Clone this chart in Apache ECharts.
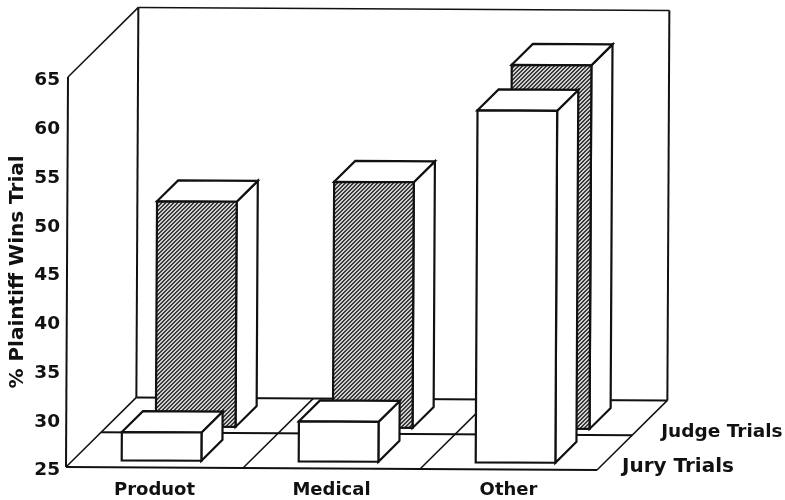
<!DOCTYPE html>
<html><head><meta charset="utf-8">
<style>html,body{margin:0;padding:0;background:#fff}#c{width:785px;height:500px}</style>
<script src="https://cdn.jsdelivr.net/npm/echarts@6/dist/echarts.min.js"></script>
</head><body><div id="c"></div>
<script>
var categories = ['Produot', 'Medical', 'Other'];
var juryTrials = [27.9, 29.1, 61.1];
var judgeTrials = [48.1, 50.2, 62.3];
var yTicks = {min: 25, max: 65, interval: 5};
var yTitle = '% Plaintiff Wins Trial';
var juryName = 'Jury Trials', judgeName = 'Judge Trials';

var FONT = '"DejaVu Sans"';
var INK = '#111111';
var DEPTH = 70, ROW_FRONT = {jury: 7, judge: 41}, BAR_DEPTH = 21, MID = 35;

// the reference is a slightly rotated scan
function skew(p) {
  return [p[0] + 2 * (467 - p[1]) / 390, p[1] + 3 * (p[0] - 66) / 531];
}
function poly(pts, fill, lw) {
  return {type: 'polygon', shape: {points: pts.map(skew)},
    style: {fill: fill || '#fff', stroke: INK, lineWidth: lw || 2.2, lineJoin: 'miter'}};
}
function line(a, b, lw) {
  return {type: 'polyline', shape: {points: [skew(a), skew(b)]},
    style: {fill: null, stroke: INK, lineWidth: lw || 1.5}};
}
function hatch() {
  var c = document.createElement('canvas'); c.width = 4; c.height = 4;
  var g = c.getContext('2d');
  g.fillStyle = '#cfcfcf'; g.fillRect(0, 0, 4, 4);
  g.fillStyle = '#3a3a3a';
  [[0,3],[1,3],[1,2],[2,2],[2,1],[3,1],[3,0],[0,0]].forEach(function (p) { g.fillRect(p[0], p[1], 1, 1); });
  return {image: c, repeat: 'repeat'};
}
var HATCH = hatch();

function renderBar(row, fill) {
  return function (params, api) {
    var d = ROW_FRONT[row], idx = api.value(0);
    var top = api.coord([idx, api.value(1)]);
    var base = api.coord([idx, yTicks.min]);
    var w = api.size([1, 0])[0] * 0.45;
    var l = base[0] - w / 2 + d, r = l + w, by = base[1] - d, ty = top[1] - d, k = BAR_DEPTH;
    return {type: 'group', children: [
      poly([[r, ty], [r + k, ty - k], [r + k, by - k], [r, by]], '#fff'),
      poly([[l, ty], [l + k, ty - k], [r + k, ty - k], [r, ty]], '#fff'),
      poly([[l, ty], [r, ty], [r, by], [l, by]], fill)
    ]};
  };
}
function renderFrame(params) {
  var c = params.coordSys, L = c.x, R = c.x + c.width, T = c.y, B = c.y + c.height, D = DEPTH, kids = [];
  kids.push(line([L, B], [L, T], 2));
  kids.push(line([L, T], [L + D, T - D], 1.5));
  kids.push(line([L + D, T - D], [R + D, T - D], 1.5));
  kids.push(line([L + D, T - D], [L + D, B - D], 2));
  kids.push(line([R + D, T - D], [R + D, B - D], 2));
  kids.push(line([L + D, B - D], [R + D, B - D], 2));
  kids.push(line([L, B], [R, B], 2));
  kids.push(line([R, B], [R + D, B - D], 1.5));
  kids.push(line([L, B], [L + D, B - D], 1.5));
  kids.push(line([L + MID, B - MID], [R + MID, B - MID], 2));
  for (var i = 1; i < categories.length; i++) {
    var x = L + c.width * i / categories.length;
    kids.push(line([x, B], [x + D, B - D], 1.5));
  }
  [[juryName, 0, 25, 20], [judgeName, MID, 29, 18.5]].forEach(function (t) {
    var p = skew([R + t[1] + t[2], B - t[1] - 3]);
    kids.push({type: 'text', x: p[0], y: p[1], style: {text: t[0], fill: INK,
      font: 'bold ' + t[3] + 'px ' + FONT, textAlign: 'left', textVerticalAlign: 'middle'}});
  });
  return {type: 'group', children: kids};
}
function rows(v) { return v.map(function (y, i) { return [i, y]; }); }

var chart = echarts.init(document.getElementById('c'), null, {renderer: 'canvas'});
chart.setOption({
  animation: false,
  backgroundColor: '#fff',
  grid: {left: 66, right: 188, top: 77, bottom: 33, containLabel: false, outerBoundsMode: 'none'},
  xAxis: {type: 'category', data: categories,
    axisLine: {show: false}, axisTick: {show: false}, splitLine: {show: false},
    axisLabel: {color: INK, fontFamily: FONT, fontWeight: 'bold', fontSize: 18, margin: 14}},
  yAxis: {type: 'value', min: yTicks.min, max: yTicks.max, interval: yTicks.interval,
    name: yTitle, nameLocation: 'middle', nameGap: 38, nameRotate: 90, nameMoveOverlap: false,
    nameTextStyle: {color: INK, fontFamily: FONT, fontWeight: 'bold', fontSize: 20},
    axisLine: {show: false}, axisTick: {show: false}, splitLine: {show: false},
    axisLabel: {margin: 6, formatter: '{a|{value}}',
      rich: {a: {color: INK, fontFamily: FONT, fontWeight: 'bold', fontSize: 18.5, padding: [7, 0, 0, 0]}}}},
  series: [
    {type: 'custom', name: 'frame', data: [[0, 25]], z: 1, silent: true, clip: false, renderItem: renderFrame, encode: {x: 0, y: 1}},
    {type: 'custom', name: judgeName, data: rows(judgeTrials), z: 2, clip: false, renderItem: renderBar('judge', HATCH), encode: {x: 0, y: 1}},
    {type: 'custom', name: juryName, data: rows(juryTrials), z: 3, clip: false, renderItem: renderBar('jury', '#fff'), encode: {x: 0, y: 1}}
  ]
});
</script></body></html>
